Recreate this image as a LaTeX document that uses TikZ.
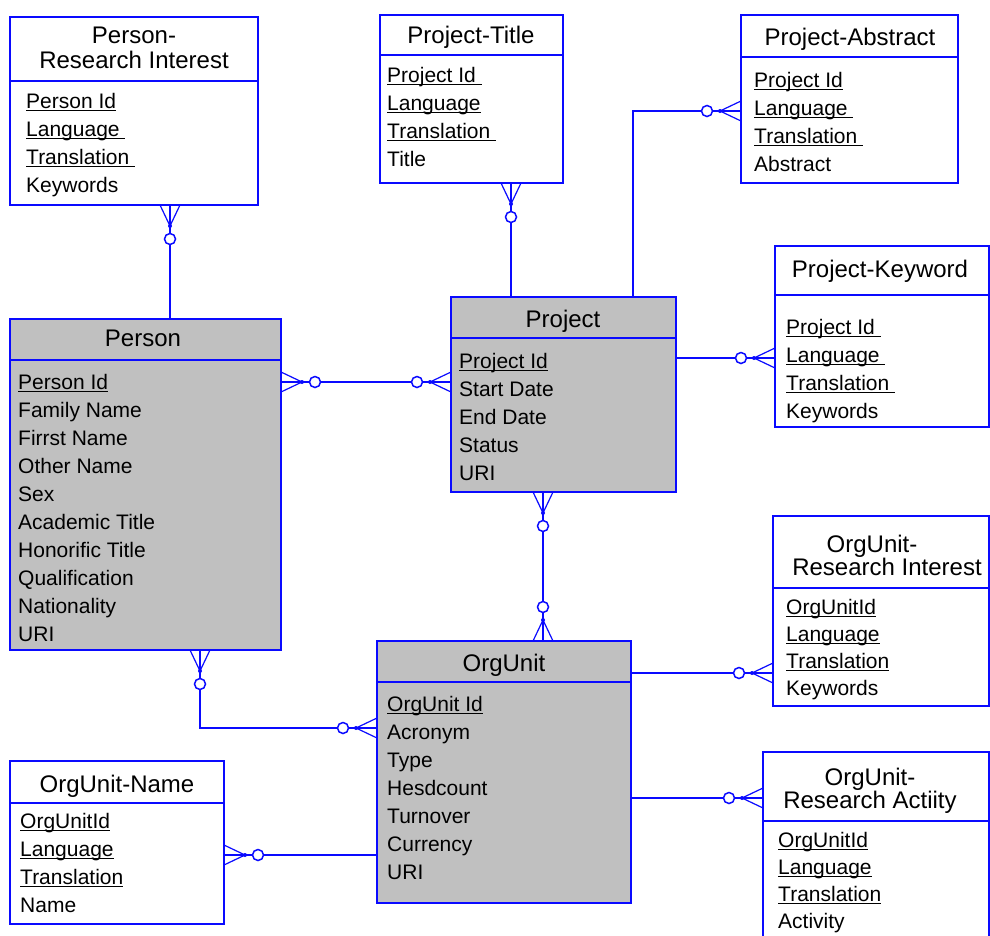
\documentclass[tikz,border=0pt]{standalone}
\usepackage{fontspec}
\setmainfont{Liberation Sans}
\definecolor{erblue}{RGB}{10,10,255}
\definecolor{erfill}{RGB}{192,192,192}

% key attribute: text with a rule just under the baseline
\newcommand\keyf[1]{\setbox0=\hbox{#1}\rlap{\rule[-3.4pt]{\wd0}{1.3pt}}\box0}
% a column of attribute rows: prefix, x, first baseline, row step, list
\newcommand\fieldrows[5]{%
  \foreach \ftxt [count=\rowi] in {#5} {%
    \node[field] (#1-\rowi) at (#2,{#3+(\rowi-1)*#4}) {\ftxt};}}
% header separator at a given distance below the top of an entity
\newcommand\headrule[2]{%
  \draw[erline] ([yshift=-#2pt]#1.north west) -- ([yshift=-#2pt]#1.north east);}

\tikzset{
  erline/.style={draw=erblue, line width=1.8pt},
  entity/.style={erline, anchor=north west, inner sep=0pt, outer sep=0pt, fill=white},
  strongentity/.style={entity, fill=erfill},
  title/.style={anchor=base, inner sep=0pt, font=\fontsize{24}{26}\selectfont},
  field/.style={anchor=base west, inner sep=0pt, font=\fontsize{21}{24}\selectfont},
  crow/.pic={
    \draw[draw=erblue, line width=1.2pt] (0,-10) -- (21,0) -- (0,10) (0,0) -- (21,0);
    \fill[erblue] (21,0) circle (2pt);
    \draw[erline, line width=1.5pt, fill=white] (34,0) circle (5.5pt);
  }
}

\begin{document}
\begin{tikzpicture}[x=1pt, y=-1pt]
\useasboundingbox (0,0) rectangle (990,935);
\fill[white] (0,0) rectangle (990,935);
\clip (0,0) rectangle (990,935);

% ---------- entities ----------
\node[entity, minimum width=248pt, minimum height=188pt] (pri) at (10,17) {};
\headrule{pri}{64}
\node[title] (pri-t1) at (134,43) {Person-};
\node[title] (pri-t2) at (134,68) {Research Interest};
\fieldrows{pri}{26}{108}{28}{\keyf{Person Id},\keyf{Language\ },\keyf{Translation\ },Keywords}

\node[entity, minimum width=183pt, minimum height=168pt] (pt) at (380,15) {};
\headrule{pt}{40}
\node[title] (pt-t) at (471,43) {Project-Title};
\fieldrows{pt}{387}{82}{28}{\keyf{Project Id\ },\keyf{Language},\keyf{Translation\ },Title}

\node[entity, minimum width=217pt, minimum height=168pt] (pa) at (741,15) {};
\headrule{pa}{42}
\node[title] (pa-t) at (850,45) {Project-Abstract};
\fieldrows{pa}{754}{87}{28}{\keyf{Project Id},\keyf{Language\ },\keyf{Translation\ },Abstract}

\node[entity, minimum width=214pt, minimum height=181pt] (pk) at (775,246) {};
\headrule{pk}{49}
\node[title] (pk-t) at (880,277) {Project-Keyword};
\fieldrows{pk}{786}{334}{28}{\keyf{Project Id\ },\keyf{Language\ },\keyf{Translation\ },Keywords}

\node[strongentity, minimum width=271pt, minimum height=331pt] (person) at (10,319) {};
\headrule{person}{41}
\node[title] (person-t) at (143,346) {Person};
\fieldrows{person}{18}{389}{28}{\keyf{Person Id},Family Name,Firrst Name,Other Name,Sex,Academic Title,Honorific Title,Qualification,Nationality,URI}

\node[strongentity, minimum width=225pt, minimum height=195pt] (project) at (451,297) {};
\headrule{project}{41}
\node[title] (project-t) at (563,327) {Project};
\fieldrows{project}{459}{368}{28}{\keyf{Project Id},Start Date,End Date,Status,URI}

\node[strongentity, minimum width=254pt, minimum height=262pt] (ou) at (377,641) {};
\headrule{ou}{41}
\node[title] (ou-t) at (504,671) {OrgUnit};
\fieldrows{ou}{387}{711}{28}{\keyf{OrgUnit Id},Acronym,Type,Hesdcount,Turnover,Currency,URI}

\node[entity, minimum width=214pt, minimum height=163pt] (on) at (10,761) {};
\headrule{on}{42}
\node[title] (on-t) at (117,792) {OrgUnit-Name};
\fieldrows{on}{20}{828}{28}{\keyf{OrgUnitId},\keyf{Language},\keyf{Translation},Name}

\node[entity, minimum width=216pt, minimum height=190pt] (ri) at (773,516) {};
\headrule{ri}{72}
\node[title] (ri-t1) at (872,552) {OrgUnit-};
\node[title] (ri-t2) at (887,575) {Research Interest};
\fieldrows{ri}{786}{614}{27}{\keyf{OrgUnitId},\keyf{Language},\keyf{Translation},Keywords}

\node[entity, minimum width=226pt, minimum height=200pt] (ra) at (763,752) {};
\headrule{ra}{69}
\node[title] (ra-t1) at (870,785) {OrgUnit-};
\node[title] (ra-t2) at (870,808) {Research Actiity};
\fieldrows{ra}{778}{847}{27}{\keyf{OrgUnitId},\keyf{Language},\keyf{Translation},Activity}

% ---------- relationship routes ----------
\coordinate (r1) at (170,0);
\coordinate (r2) at (511,0);
\coordinate (r3) at (633,111);
\coordinate (r4) at (0,358);
\coordinate (r5) at (0,382);
\coordinate (r6) at (543,0);
\coordinate (r7) at (200,728);
\coordinate (r8) at (0,855);
\coordinate (r9) at (0,673);
\coordinate (r10) at (0,798);

\draw[erline] (pri.south -| r1) -- (person.north -| r1);
\draw[erline] (pt.south -| r2) -- (project.north -| r2);
\draw[erline] (project.north -| r3) |- (pa.west |- r3);
\draw[erline] (project.east |- r4) -- (pk.west |- r4);
\draw[erline] (person.east |- r5) -- (project.west |- r5);
\draw[erline] (project.south -| r6) -- (ou.north -| r6);
\draw[erline] (person.south -| r7) |- (ou.west |- r7);
\draw[erline] (on.east |- r8) -- (ou.west |- r8);
\draw[erline] (ou.east |- r9) -- (ri.west |- r9);
\draw[erline] (ou.east |- r10) -- (ra.west |- r10);

% ---------- zero-or-many ends ----------
\pic[rotate=-90] at (pri.south -| r1) {crow};
\pic[rotate=-90] at (pt.south -| r2) {crow};
\pic[rotate=180] at (pa.west |- r3) {crow};
\pic[rotate=180] at (pk.west |- r4) {crow};
\pic at (person.east |- r5) {crow};
\pic[rotate=180] at (project.west |- r5) {crow};
\pic[rotate=-90] at (project.south -| r6) {crow};
\pic[rotate=90] at (ou.north -| r6) {crow};
\pic[rotate=-90] at (person.south -| r7) {crow};
\pic[rotate=180] at (ou.west |- r7) {crow};
\pic at (on.east |- r8) {crow};
\pic[rotate=180] at (ri.west |- r9) {crow};
\pic[rotate=180] at (ra.west |- r10) {crow};
\end{tikzpicture}
\end{document}
